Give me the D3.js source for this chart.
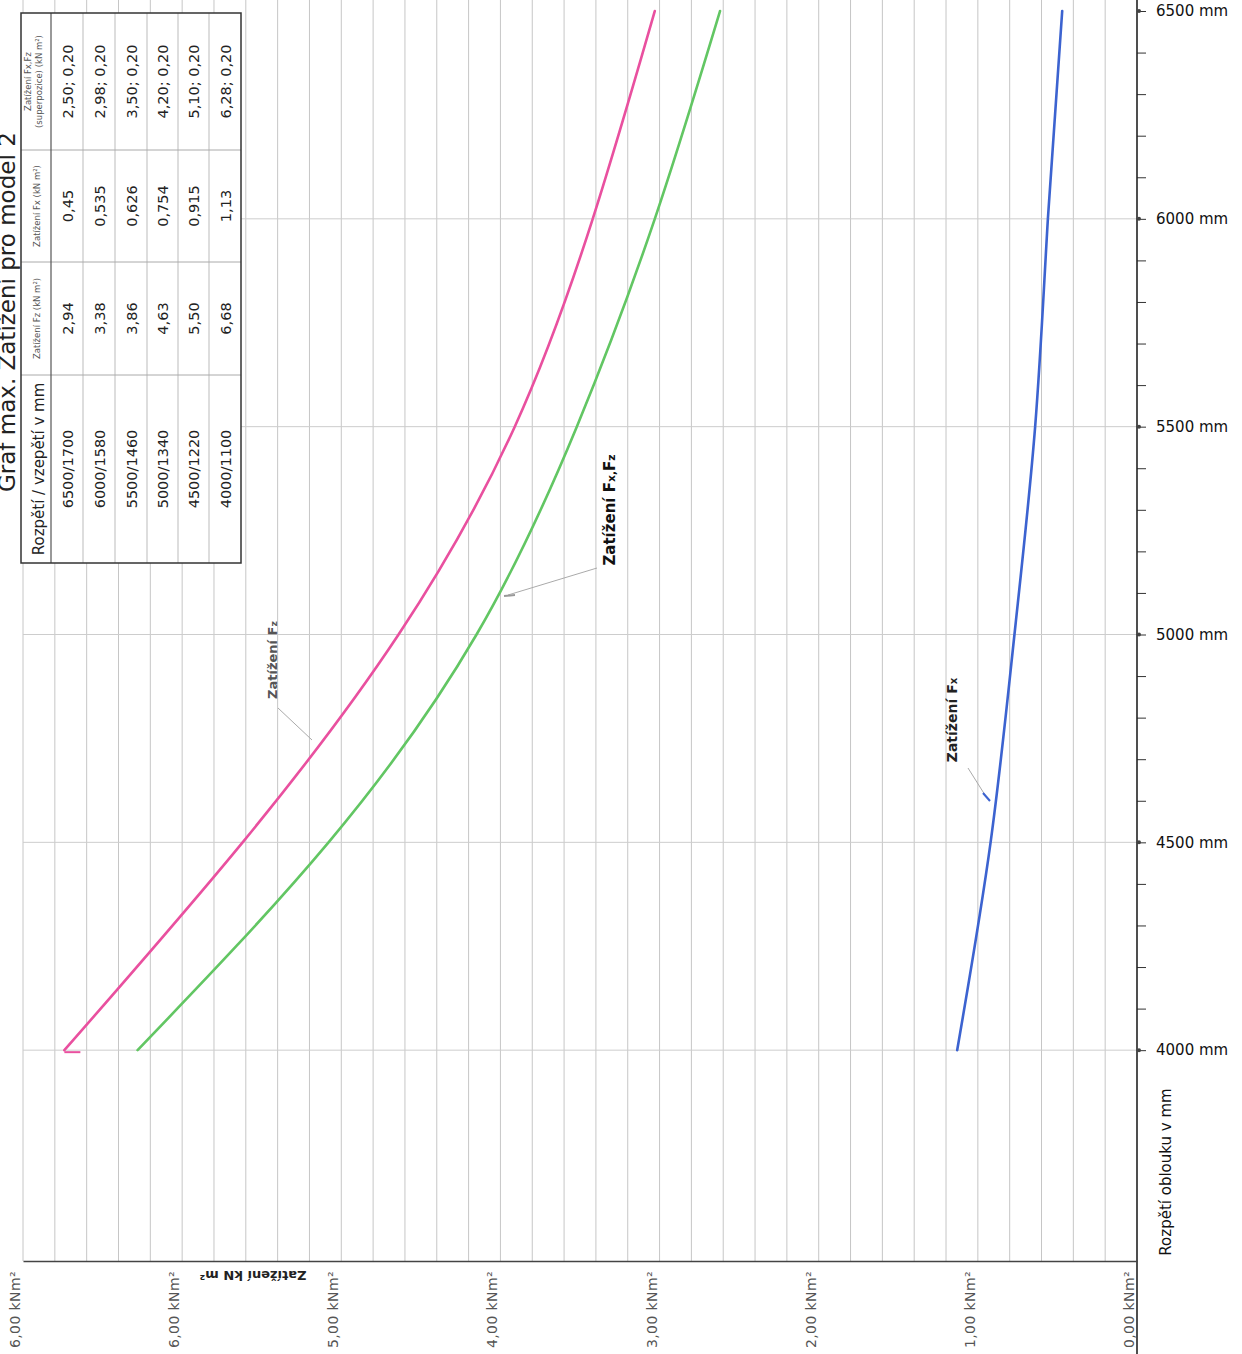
<!DOCTYPE html>
<html>
<head>
<meta charset="utf-8">
<script src="https://cdn.jsdelivr.net/npm/d3@7"></script>
<style>
  html, body { margin: 0; padding: 0; background: #fff; }
  svg { display: block; }
  text { font-family: "DejaVu Sans", sans-serif; }
</style>
</head>
<body>
<svg id="chart" width="1242" height="1354"></svg>
<script>
// ---------------- data ----------------
const spans      = [4000, 4500, 5000, 5500, 6000, 6500];          // rozpětí oblouku (mm)
const rises      = [1100, 1220, 1340, 1460, 1580, 1700];          // vzepětí (mm)
// values printed in the table
const loadFz     = [6.68, 5.50, 4.63, 3.86, 3.38, 2.94];          // zatížení Fz (kN/m²)
const loadFx     = [1.13, 0.915, 0.754, 0.626, 0.535, 0.45];      // zatížení Fx (kN/m²)
const loadFxFz   = [6.28, 5.10, 4.20, 3.50, 2.98, 2.50];          // superpozice, Fz část
const loadFxFz2  = [0.20, 0.20, 0.20, 0.20, 0.20, 0.20];          // superpozice, Fx část
// values at each 500 mm gridline
const curveFz    = [6.74, 5.62, 4.64, 3.91, 3.42, 3.03];
const curveFxFz  = [6.28, 5.08, 4.15, 3.52, 3.03, 2.62];
const curveFx    = [1.13, 0.92, 0.77, 0.64, 0.56, 0.47];
const loadTicks  = [0, 1, 2, 3, 4, 5, 6, 7];
const loadTickLabels = ["0,00 kNm²", "1,00 kNm²", "2,00 kNm²", "3,00 kNm²",
                        "4,00 kNm²", "5,00 kNm²", "6,00 kNm²", "6,00 kNm²"];
const spanMajor  = [4000, 4500, 5000, 5500, 6000, 6500];
const spanMinor  = d3.range(4000, 6501, 100);
const tableHeaders = ["Rozpětí / vzepětí v mm", "Zatížení Fz (kN m²)", "Zatížení Fx (kN m²)",
                      "Zatížení Fx,Fz", "(superpozice) (kN m²)"];
const titleText  = "Graf max. Zatížení pro model 2";

// ---------------- setup ----------------
const svg = d3.select("#chart");
svg.append("rect").attr("width", 1242).attr("height", 1354).attr("fill", "#fff");

// load (kN/m²) runs right -> left, span (mm) runs bottom -> top (page is rotated)
const xLoad = d3.scaleLinear().domain([0, 7]).range([1137, 23]);
const ySpan = d3.scaleLinear().domain([3500, 6500]).range([1258, 11]);
const plotTop = 0, plotBottom = 1261;

// grid: vertical lines every 0.2 kN/m²
const gridVals = d3.range(1, 36).map(i => +(i * 0.2).toFixed(1));
svg.append("g").selectAll("line").data(gridVals).join("line")
  .attr("x1", d => xLoad(d)).attr("x2", d => xLoad(d))
  .attr("y1", plotTop).attr("y2", plotBottom)
  .attr("stroke", "#c6c6c6").attr("stroke-width", 1);

// grid: horizontal lines at each 500 mm
svg.append("g").selectAll("line").data(spanMajor.filter(d => d < 6500)).join("line")
  .attr("x1", xLoad(7)).attr("x2", xLoad(0))
  .attr("y1", d => ySpan(d)).attr("y2", d => ySpan(d))
  .attr("stroke", "#cdcdcd").attr("stroke-width", 1);

// ---------------- axes ----------------
// span axis (right side)
const spanAxis = d3.axisRight(ySpan).tickValues(spanMinor).tickSize(9).tickFormat("");
const gSpan = svg.append("g").attr("transform", `translate(${xLoad(0)},0)`).call(spanAxis);
gSpan.select(".domain").remove();
gSpan.selectAll(".tick line").attr("stroke", "#333").attr("stroke-width", 1);
svg.append("line").attr("x1", xLoad(0)).attr("x2", xLoad(0))
  .attr("y1", 0).attr("y2", 1354).attr("stroke", "#222").attr("stroke-width", 1.6);
svg.append("g").selectAll("circle").data(spanMajor).join("circle")
  .attr("cx", xLoad(0) + 2).attr("cy", d => ySpan(d)).attr("r", 2).attr("fill", "#444");
svg.append("g").selectAll("text").data(spanMajor).join("text")
  .attr("x", 1156).attr("y", d => ySpan(d)).attr("dy", "0.35em")
  .attr("font-size", 15).attr("fill", "#111")
  .text(d => d + " mm");
svg.append("text")
  .attr("transform", `translate(1166,1172) rotate(-90)`)
  .attr("text-anchor", "middle").attr("dy", "0.35em")
  .attr("font-size", 15).attr("fill", "#111")
  .text("Rozpětí oblouku v mm");

// load axis (bottom)
const loadAxis = d3.axisBottom(xLoad).tickValues(loadTicks).tickSize(0).tickFormat("");
const gLoad = svg.append("g").attr("transform", `translate(0,${plotBottom})`).call(loadAxis);
gLoad.select(".domain").attr("stroke", "#444").attr("stroke-width", 1.5);
svg.append("g").selectAll("text").data(loadTicks).join("text")
  .attr("transform", d => `translate(${xLoad(d) - 3},1271) rotate(-90)`)
  .attr("text-anchor", "end")
  .attr("font-size", 14).attr("fill", "#555").attr("letter-spacing", 0.4)
  .text((d, i) => loadTickLabels[i]);
svg.append("text")
  .attr("transform", `translate(253,1271) rotate(180)`)
  .attr("text-anchor", "middle")
  .attr("font-size", 13).attr("font-weight", "bold").attr("fill", "#222")
  .text("Zatížení kN m²");

// ---------------- curves ----------------
const line = d3.line().x(d => xLoad(d[0])).y(d => ySpan(d[1])).curve(d3.curveNatural);
const series = [
  {vals: curveFz,   color: "#e9509f"},
  {vals: curveFxFz, color: "#62c663"},
  {vals: curveFx,   color: "#3c63d0"}
];
svg.append("g").selectAll("path").data(series).join("path")
  .attr("d", s => line(s.vals.map((v, i) => [v, spans[i]])))
  .attr("fill", "none").attr("stroke", s => s.color).attr("stroke-width", 2.6)
  .attr("stroke-linecap", "round");
// short pen tail at start of the Fz curve
svg.append("line")
  .attr("x1", xLoad(curveFz[0])).attr("x2", xLoad(curveFz[0]) + 16)
  .attr("y1", ySpan(spans[0]) + 2).attr("y2", ySpan(spans[0]) + 2)
  .attr("stroke", "#e9509f").attr("stroke-width", 2);

// ---------------- curve labels ----------------
function curveLabel(x, y, main, sub, size, color, weight) {
  const t = svg.append("text")
    .attr("transform", `translate(${x},${y}) rotate(-90)`)
    .attr("text-anchor", "middle")
    .attr("font-size", size).attr("fill", color).attr("font-weight", weight);
  t.append("tspan").text(main);
  sub.forEach(p => {
    t.append("tspan").text(p[0]);
    t.append("tspan").attr("font-size", size * 0.72).text(p[1]);
  });
}
curveLabel(277, 660, "Zatížení ", [["F", "z"]], 13, "#555", "bold");
curveLabel(615, 510, "Zatížení ", [["F", "x,"], ["F", "z"]], 15, "#111", "bold");
curveLabel(957, 720, "Zatížení ", [["F", "x"]], 14, "#222", "bold");

// leader lines
const leaders = [[278, 708, 312, 740], [597, 568, 508, 595], [968, 768, 985, 795]];
svg.append("g").selectAll("line").data(leaders).join("line")
  .attr("x1", d => d[0]).attr("y1", d => d[1]).attr("x2", d => d[2]).attr("y2", d => d[3])
  .attr("stroke", "#aaa").attr("stroke-width", 1);
// small pen marks at leader ends
svg.append("line").attr("x1", 983).attr("y1", 793).attr("x2", 990).attr("y2", 801)
  .attr("stroke", "#3c63d0").attr("stroke-width", 2);
svg.append("line").attr("x1", 504).attr("y1", 596).attr("x2", 515).attr("y2", 595)
  .attr("stroke", "#999").attr("stroke-width", 2);

// ---------------- table ----------------
const tX = [21, 51, 83, 115, 147, 178, 209, 241];   // row borders (screen x)
const tY = [13, 150, 262, 375, 563];                // column borders (screen y)
const gT = svg.append("g");
gT.append("rect").attr("x", tX[0]).attr("y", tY[0])
  .attr("width", tX[7] - tX[0]).attr("height", tY[4] - tY[0])
  .attr("fill", "#fff");
gT.selectAll("line.r").data(tX.slice(2, 7)).join("line").attr("class", "r")
  .attr("x1", d => d).attr("x2", d => d).attr("y1", tY[0]).attr("y2", tY[4])
  .attr("stroke", "#bbb");
gT.selectAll("line.c").data(tY.slice(1, 4)).join("line").attr("class", "c")
  .attr("x1", tX[0]).attr("x2", tX[7]).attr("y1", d => d).attr("y2", d => d)
  .attr("stroke", "#aaa");
gT.append("line").attr("x1", tX[1]).attr("x2", tX[1]).attr("y1", tY[0]).attr("y2", tY[4])
  .attr("stroke", "#555").attr("stroke-width", 1.2);
gT.append("rect").attr("x", tX[0]).attr("y", tY[0])
  .attr("width", tX[7] - tX[0]).attr("height", tY[4] - tY[0])
  .attr("fill", "none").attr("stroke", "#333").attr("stroke-width", 1.5);

const colC = [(tY[3] + tY[4]) / 2, (tY[2] + tY[3]) / 2, (tY[1] + tY[2]) / 2, (tY[0] + tY[1]) / 2];
function cell(x, y, txt, size, color) {
  gT.append("text").attr("transform", `translate(${x},${y}) rotate(-90)`)
    .attr("text-anchor", "middle").attr("font-size", size).attr("fill", color || "#222")
    .text(txt);
}
cell(44, colC[0], tableHeaders[0], 15);
cell(40, colC[1], tableHeaders[1], 8.5, "#555");
cell(40, colC[2], tableHeaders[2], 8.5, "#555");
cell(31, colC[3], tableHeaders[3], 8.5, "#555");
cell(42, colC[3], tableHeaders[4], 8.5, "#555");
const fmt2 = v => v.toFixed(2).replace(".", ",");
const fmtR = v => String(v).replace(".", ",");
const order = d3.range(spans.length).reverse();   // 6500 first
order.forEach((idx, r) => {
  const bx = (tX[r + 1] + tX[r + 2]) / 2 + 5.5;
  cell(bx, colC[0], spans[idx] + "/" + rises[idx], 14.5);
  cell(bx, colC[1], fmt2(loadFz[idx]), 14.5);
  cell(bx, colC[2], fmtR(loadFx[idx]), 14.5);
  cell(bx, colC[3], fmt2(loadFxFz[idx]) + "; " + fmt2(loadFxFz2[idx]), 14.5);
});

// ---------------- title ----------------
svg.append("text")
  .attr("transform", `translate(15,492) rotate(-90)`)
  .attr("text-anchor", "start")
  .attr("font-size", 23).attr("fill", "#222")
  .text(titleText);
</script>
</body>
</html>
